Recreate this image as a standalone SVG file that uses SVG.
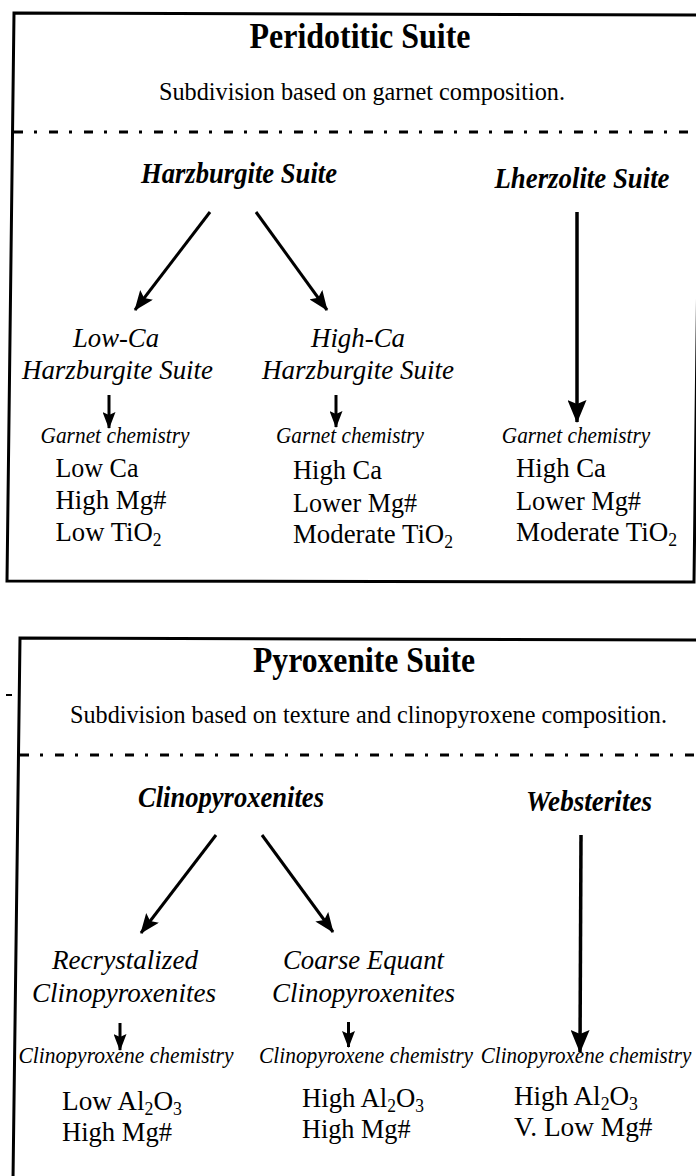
<svg xmlns="http://www.w3.org/2000/svg" width="696" height="1176" viewBox="0 0 696 1176">
  <defs>
    <style>
      text { font-family: "Liberation Serif", "Times New Roman", serif; fill: #000; }
      .title { font-size: 35px; font-weight: bold; text-anchor: middle; }
      .sub { font-size: 26px; text-anchor: middle; }
      .suite { font-size: 29px; font-weight: bold; font-style: italic; text-anchor: middle; }
      .group { font-size: 28px; font-style: italic; text-anchor: middle; }
      .chem { font-size: 23px; font-style: italic; text-anchor: middle; }
      .item { font-size: 27.5px; }
      .frame { fill: none; stroke: #000; stroke-width: 3; stroke-linejoin: miter; }
      .divider { stroke: #000; stroke-width: 3; stroke-dasharray: 9 11 3 12; fill: none; }
      .arrow { stroke: #000; stroke-width: 3; fill: none; }
      .arrow-long { stroke: #000; stroke-width: 3.5; fill: none; }
    </style>
    <marker id="head" markerUnits="userSpaceOnUse" markerWidth="20" markerHeight="16" refX="19" refY="8" orient="auto" viewBox="0 0 20 16">
      <path d="M0,0 L20,8 L0,16 L4,8 Z" fill="#000"/>
    </marker>
    <marker id="head-long" markerUnits="userSpaceOnUse" markerWidth="23" markerHeight="19" refX="22" refY="9.5" orient="auto" viewBox="0 0 23 19">
      <path d="M0,0 L23,9.5 L0,19 L4,9.5 Z" fill="#000"/>
    </marker>
    <marker id="head-small" markerUnits="userSpaceOnUse" markerWidth="17" markerHeight="13" refX="16" refY="6.5" orient="auto" viewBox="0 0 17 13">
      <path d="M0,0 L17,6.5 L0,13 L3,6.5 Z" fill="#000"/>
    </marker>
  </defs>

  <!-- Frames and dash-dot dividers -->
  <g id="frames">
    <path class="frame" d="M14,13 L701,15 L694,582 L7,581 Z"/>
    <path class="divider" d="M14,132 L696,132"/>
    <path class="frame" d="M13,1180 L20,638 L702,640"/>
    <path class="divider" d="M20,755 L696,755"/>
    <path d="M6,695 L12,695" stroke="#000" stroke-width="2"/>
  </g>

  <!-- Connectors -->
  <g id="connectors">
    <line class="arrow" x1="210" y1="212" x2="135" y2="310" marker-end="url(#head)"/>
    <line class="arrow" x1="256" y1="212" x2="327" y2="310" marker-end="url(#head)"/>
    <line class="arrow-long" x1="577" y1="212" x2="577" y2="422" marker-end="url(#head-long)"/>
    <line class="arrow" x1="109" y1="395" x2="109" y2="428" marker-end="url(#head-small)"/>
    <line class="arrow" x1="336" y1="395" x2="336" y2="427" marker-end="url(#head-small)"/>

    <line class="arrow" x1="216" y1="835" x2="141" y2="933" marker-end="url(#head)"/>
    <line class="arrow" x1="262" y1="835" x2="333" y2="932" marker-end="url(#head)"/>
    <line class="arrow-long" x1="581" y1="835" x2="580" y2="1052" marker-end="url(#head-long)"/>
    <line class="arrow" x1="120" y1="1023" x2="120" y2="1050" marker-end="url(#head-small)"/>
    <line class="arrow" x1="348.5" y1="1022" x2="348.5" y2="1047" marker-end="url(#head-small)"/>
  </g>

  <!-- Peridotitic suite -->
  <g id="peridotitic-header">
    <text class="title" x="360" y="48" textLength="221" lengthAdjust="spacingAndGlyphs">Peridotitic Suite</text>
    <text class="sub" x="362" y="100" textLength="406" lengthAdjust="spacingAndGlyphs">Subdivision based on garnet composition.</text>
  </g>
  <g id="harzburgite">
    <text class="suite" x="239" y="183" textLength="196" lengthAdjust="spacingAndGlyphs">Harzburgite Suite</text>
  </g>
  <g id="lherzolite">
    <text class="suite" x="582" y="188" textLength="175" lengthAdjust="spacingAndGlyphs">Lherzolite Suite</text>
  </g>
  <g id="low-ca">
    <text class="group" x="116" y="347" textLength="86" lengthAdjust="spacingAndGlyphs">Low-Ca</text>
    <text class="group" x="117.5" y="379" textLength="191" lengthAdjust="spacingAndGlyphs">Harzburgite Suite</text>
  </g>
  <g id="high-ca">
    <text class="group" x="358" y="347" textLength="94" lengthAdjust="spacingAndGlyphs">High-Ca</text>
    <text class="group" x="358" y="379" textLength="192" lengthAdjust="spacingAndGlyphs">Harzburgite Suite</text>
  </g>
  <g id="low-ca-chem">
    <text class="chem" x="115" y="443" textLength="149" lengthAdjust="spacingAndGlyphs">Garnet chemistry</text>
    <text class="item" x="55.5" y="476.5" textLength="83" lengthAdjust="spacingAndGlyphs">Low Ca</text>
    <text class="item" x="55.5" y="509" textLength="111" lengthAdjust="spacingAndGlyphs">High Mg#</text>
    <text class="item" x="55.5" y="541" textLength="106" lengthAdjust="spacingAndGlyphs">Low TiO<tspan dy="5" font-size="18">2</tspan></text>
  </g>
  <g id="high-ca-chem">
    <text class="chem" x="350" y="443" textLength="148" lengthAdjust="spacingAndGlyphs">Garnet chemistry</text>
    <text class="item" x="293" y="479" textLength="89" lengthAdjust="spacingAndGlyphs">High Ca</text>
    <text class="item" x="293" y="511.5" textLength="124" lengthAdjust="spacingAndGlyphs">Lower Mg#</text>
    <text class="item" x="293" y="543" textLength="160" lengthAdjust="spacingAndGlyphs">Moderate TiO<tspan dy="5" font-size="18">2</tspan></text>
  </g>
  <g id="lherzolite-chem">
    <text class="chem" x="576" y="443" textLength="148.5" lengthAdjust="spacingAndGlyphs">Garnet chemistry</text>
    <text class="item" x="516" y="477" textLength="90" lengthAdjust="spacingAndGlyphs">High Ca</text>
    <text class="item" x="516" y="509.5" textLength="125" lengthAdjust="spacingAndGlyphs">Lower Mg#</text>
    <text class="item" x="516" y="541" textLength="161" lengthAdjust="spacingAndGlyphs">Moderate TiO<tspan dy="5" font-size="18">2</tspan></text>
  </g>

  <!-- Pyroxenite suite -->
  <g id="pyroxenite-header">
    <text class="title" x="364" y="672" textLength="222" lengthAdjust="spacingAndGlyphs">Pyroxenite Suite</text>
    <text class="sub" x="368.5" y="723" textLength="597" lengthAdjust="spacingAndGlyphs">Subdivision based on texture and clinopyroxene composition.</text>
  </g>
  <g id="clinopyroxenites">
    <text class="suite" x="231" y="807" textLength="186" lengthAdjust="spacingAndGlyphs">Clinopyroxenites</text>
  </g>
  <g id="websterites">
    <text class="suite" x="589" y="811" textLength="126" lengthAdjust="spacingAndGlyphs">Websterites</text>
  </g>
  <g id="recrystalized">
    <text class="group" x="125" y="969" textLength="146" lengthAdjust="spacingAndGlyphs">Recrystalized</text>
    <text class="group" x="124" y="1002" textLength="184" lengthAdjust="spacingAndGlyphs">Clinopyroxenites</text>
  </g>
  <g id="coarse-equant">
    <text class="group" x="363.5" y="969" textLength="161" lengthAdjust="spacingAndGlyphs">Coarse Equant</text>
    <text class="group" x="363.5" y="1002" textLength="183" lengthAdjust="spacingAndGlyphs">Clinopyroxenites</text>
  </g>
  <g id="recrystalized-chem">
    <text class="chem" x="126" y="1063" textLength="215" lengthAdjust="spacingAndGlyphs">Clinopyroxene chemistry</text>
    <text class="item" x="62" y="1110" textLength="120" lengthAdjust="spacingAndGlyphs">Low Al<tspan dy="5" font-size="18">2</tspan><tspan dy="-5">O</tspan><tspan dy="5" font-size="18">3</tspan></text>
    <text class="item" x="62" y="1141" textLength="110" lengthAdjust="spacingAndGlyphs">High Mg#</text>
  </g>
  <g id="coarse-equant-chem">
    <text class="chem" x="366" y="1063" textLength="214" lengthAdjust="spacingAndGlyphs">Clinopyroxene chemistry</text>
    <text class="item" x="302" y="1107" textLength="122" lengthAdjust="spacingAndGlyphs">High Al<tspan dy="5" font-size="18">2</tspan><tspan dy="-5">O</tspan><tspan dy="5" font-size="18">3</tspan></text>
    <text class="item" x="302" y="1138" textLength="108.5" lengthAdjust="spacingAndGlyphs">High Mg#</text>
  </g>
  <g id="websterites-chem">
    <text class="chem" x="586" y="1063" textLength="210.5" lengthAdjust="spacingAndGlyphs">Clinopyroxene chemistry</text>
    <text class="item" x="514" y="1105" textLength="124" lengthAdjust="spacingAndGlyphs">High Al<tspan dy="5" font-size="18">2</tspan><tspan dy="-5">O</tspan><tspan dy="5" font-size="18">3</tspan></text>
    <text class="item" x="514" y="1136" textLength="138.5" lengthAdjust="spacingAndGlyphs">V. Low Mg#</text>
  </g>
</svg>
